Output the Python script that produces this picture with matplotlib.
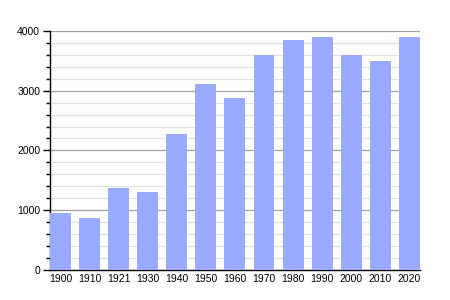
import matplotlib
matplotlib.use('Agg')
import matplotlib.pyplot as plt
import numpy as np
from matplotlib.ticker import MultipleLocator

# population by census year
years = ['1900', '1910', '1921', '1930', '1940', '1950', '1960',
         '1970', '1980', '1990', '2000', '2010', '2020']
population = [955, 870, 1372, 1305, 2276, 3113, 2879,
              3598, 3849, 3900, 3598, 3498, 3900]

plt.rcParams['font.family'] = ['Liberation Sans', 'DejaVu Sans']

fig = plt.figure(figsize=(4.5, 3), dpi=100)
ax = fig.add_axes([0.111, 0.1, 0.822, 0.797])

x = np.arange(len(years))
w = 0.72
ax.bar(x, population, width=w, color='#99aaff', zorder=3)

ax.set_xlim(-w / 2, len(years) - 1 + w / 2)
ax.set_ylim(0, 4000)
ax.set_xticks(x)
ax.set_xticklabels(years)
ax.yaxis.set_major_locator(MultipleLocator(1000))
ax.yaxis.set_minor_locator(MultipleLocator(200))

ax.grid(axis='y', which='major', color='#a0a0a0', linewidth=0.9, zorder=0)
ax.grid(axis='y', which='minor', color='#e0e0e0', linewidth=0.9, zorder=0)

for s in ['top', 'right']:
    ax.spines[s].set_visible(False)
ax.spines['left'].set_linewidth(1.0)
ax.spines['bottom'].set_linewidth(1.0)

ax.tick_params(axis='x', length=0, labelsize=7.5, pad=3)
ax.tick_params(axis='y', which='major', length=5, width=1, labelsize=7.5, pad=2)
ax.tick_params(axis='y', which='minor', length=3, width=1)

fig.savefig('out.png', dpi=100)
